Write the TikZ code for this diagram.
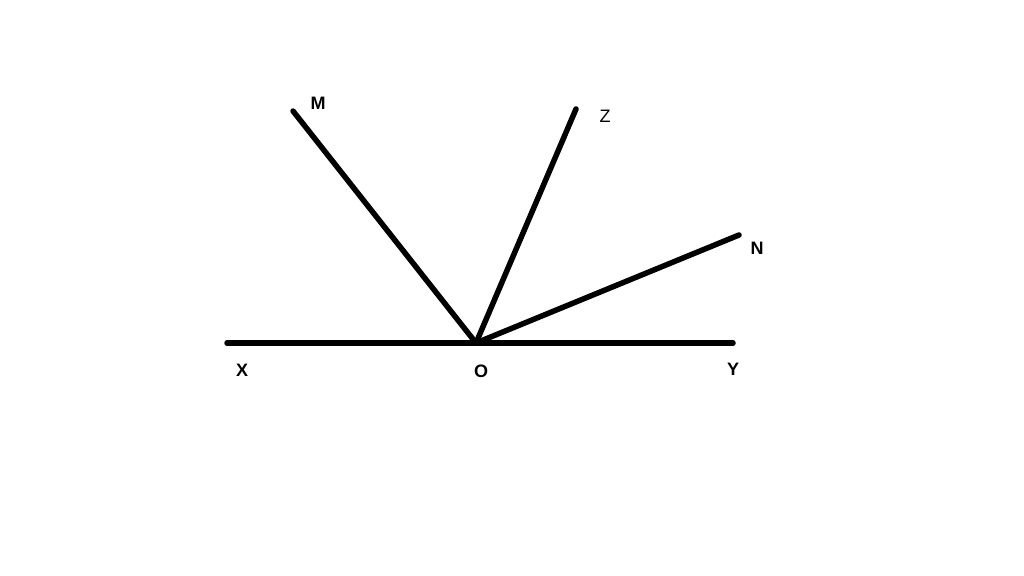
\documentclass[tikz,border=0pt]{standalone}
\usepackage{fontspec}
\setmainfont{Liberation Sans}
\tikzset{
    ray/.style={black, line width=5.5pt, line cap=round},
    lbl/.style={inner sep=0pt, font=\fontsize{18}{18}\selectfont\bfseries},
    lblthin/.style={inner sep=0pt, font=\fontsize{18}{18}\selectfont}
}

\begin{document}
\begin{tikzpicture}[x=1pt, y=-1pt]
    \useasboundingbox (0,0) rectangle (1024,575);
    \coordinate (O) at (476,343);
    \coordinate (X) at (227,343);
    \coordinate (Y) at (733,343);
    \coordinate (M) at (293,111);
    \coordinate (Z) at (576,109);
    \coordinate (N) at (739,235);
    \draw[ray] (X) -- (Y);
    \draw[ray] (O) -- (M);
    \draw[ray] (O) -- (Z);
    \draw[ray] (O) -- (N);
    \node[lbl] (labelM) at (318,103) {M};
    \node[lblthin] (labelZ) at (605,116) {Z};
    \node[lbl] (labelN) at (757,248) {N};
    \node[lbl] (labelX) at (242,370) {X};
    \node[lbl] (labelO) at (481,371) {O};
    \node[lbl] (labelY) at (733,369) {Y};
\end{tikzpicture}
\end{document}
